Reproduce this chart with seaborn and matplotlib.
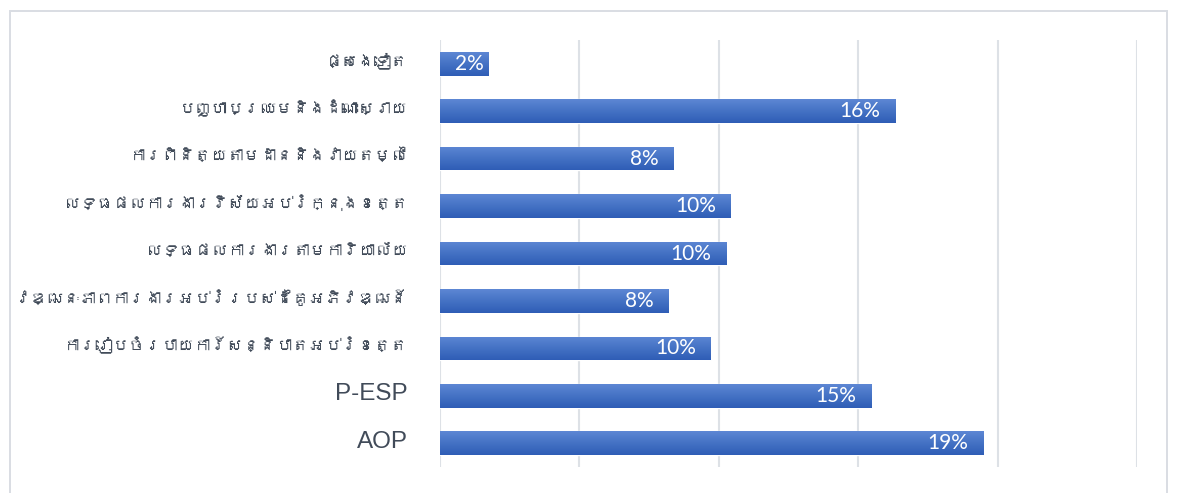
import numpy as np
import pandas as pd
import seaborn as sns
import matplotlib
matplotlib.use("Agg")
import matplotlib.pyplot as plt
from matplotlib import font_manager
from matplotlib.patches import Rectangle
from matplotlib.colors import LinearSegmentedColormap
from matplotlib.transforms import ScaledTranslation

# ---------------- data ----------------
categories = [
    "ផ្សេងទៀត",
    "បញ្ហាប្រឈមនិងដំណោះស្រាយ",
    "ការពិនិត្យតាមដាននិងវាយតម្លៃ",
    "លទ្ធផលការងារវិស័យអប់រំក្នុងខេត្ត",
    "លទ្ធផលការងារតាមការិយាល័យ",
    "វឌ្ឍនៈភាពការងារអប់រំរបស់ដៃគូអភិវឌ្ឍន៍",
    "ការរៀបចំរបាយការ៍សន្និបាតអប់រំខេត្ត",
    "P-ESP",
    "AOP",
]
shares = [0.0173, 0.1634, 0.0837, 0.1043, 0.1027, 0.0819, 0.0971, 0.1548, 0.1948]
x_max = 0.25
x_step = 0.05

df = pd.DataFrame({"category": categories, "share": shares})

# ---------------- fonts ----------------
khmer_font = None
try:
    from fontTools.ttLib import TTFont
    for fe in font_manager.fontManager.ttflist:
        try:
            tt = TTFont(fe.fname, fontNumber=0, lazy=True)
            cmap = tt.getBestCmap()
            if cmap and 0x1780 in cmap and 0x17D2 in cmap:
                khmer_font = fe.name
                break
        except Exception:
            continue
except Exception:
    pass

label_family = ["Liberation Sans"] + ([khmer_font] if khmer_font else []) + ["DejaVu Sans"]

sns.set_theme(style="white")
plt.rcParams["font.family"] = label_family

W, H = 1182, 493
fig = plt.figure(figsize=(W / 100, H / 100), dpi=100)
fig.patch.set_facecolor("white")

# outer chart frame
fig.patches.append(Rectangle((10 / W, -0.02), (1167 - 10) / W, 1 - 11 / H + 0.02,
                             transform=fig.transFigure, fill=False,
                             edgecolor="#D9DDE3", linewidth=1.4, zorder=0))

ax = fig.add_axes([440 / W, 1 - 467 / H, (1137 - 440) / W, (467 - 40) / H])
ax.set_facecolor("none")

sns.barplot(data=df, x="share", y="category", orient="h", color="#4472C4",
            width=0.5, ax=ax, saturation=1, zorder=3)

ax.set_xlim(0, x_max)
ax.set_ylim(len(categories) - 0.5, -0.5)

# gradient fill on each bar
cmap = LinearSegmentedColormap.from_list("g", ["#5D87D4", "#4472C4", "#2F5DB6"])
grad = np.linspace(0, 1, 64).reshape(-1, 1)
for p in list(ax.patches):
    x0, y0 = p.get_x(), p.get_y()
    w, h = p.get_width(), p.get_height()
    im = ax.imshow(grad, cmap=cmap, aspect="auto", extent=(x0, x0 + w, y0 + h, y0),
                   origin="upper", zorder=4, interpolation="bilinear")
    im.set_clip_path(p)
ax.set_xlim(0, x_max)
ax.set_ylim(len(categories) - 0.5, -0.5)
ax.set_aspect("auto")

# grid
ax.set_xticks(np.arange(0, x_max + 1e-9, x_step))
ax.xaxis.grid(True, color="#DDE1E6", linewidth=1.5, zorder=0)
ax.yaxis.grid(False)
ax.set_axisbelow(True)
ax.tick_params(axis="x", length=0, labelbottom=False)
ax.tick_params(axis="y", length=0, pad=23, labelsize=17.5, labelcolor="#414B59")
for s in ax.spines.values():
    s.set_visible(False)
ax.set_xlabel("")
ax.set_ylabel("")

# shrink the Khmer labels uniformly so the widest fits inside the frame
fig.canvas.draw()
renderer = fig.canvas.get_renderer()
khmer_labels = [t for t in ax.get_yticklabels() if any(ord(c) > 0x1700 for c in t.get_text())]
if khmer_labels:
    widest = max(t.get_window_extent(renderer).width for t in khmer_labels)
    factor = min(1.0, 393.0 / widest)
    for t in khmer_labels:
        t.set_fontsize(17.5 * factor)
shift = ScaledTranslation(0, 4 / 100, fig.dpi_scale_trans)
for t in ax.get_yticklabels():
    t.set_transform(t.get_transform() + shift)

# data labels
px_per_unit = ((1137 - 440) / x_max)
for i, v in enumerate(shares):
    txt = f"{v * 100:.0f}%"
    bar_px = v * px_per_unit
    off = -4 if bar_px < 70 else -15
    ax.annotate(txt, (v, i), xytext=(off, 0), textcoords="offset pixels",
                ha="right", va="center", color="white", fontsize=15,
                family=["Lato", "DejaVu Sans"], zorder=6)

fig.savefig("out.png", dpi=100, facecolor="white")
